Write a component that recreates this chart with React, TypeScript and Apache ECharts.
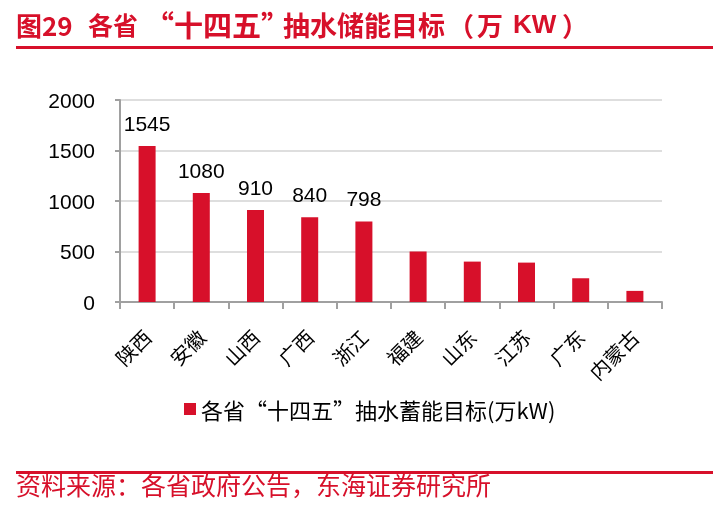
import React, { useEffect, useRef } from "react";
import * as echarts from "echarts";

const categories = ["陕西", "安徽", "山西", "广西", "浙江", "福建", "山东", "江苏", "广东", "内蒙古"];
const values = [1545, 1080, 910, 840, 798, 500, 400, 390, 235, 110];
const labeledCount = 5;
const yTicks = [0, 500, 1000, 1500, 2000];
const seriesName = "各省“十四五”抽水蓄能目标(万kW)";
const titleParts = ["图29", "各省", "“十四五”", "抽水储能目标", "（", "万", "KW", "）"];
const sourceText = "资料来源：各省政府公告，东海证券研究所";

const RED = "#D7102A";
const FONT = "'Liberation Sans', 'Noto Sans CJK SC', sans-serif";
const CJK = "'Noto Sans CJK SC', 'Liberation Sans', sans-serif";

export default function App() {
  const ref = useRef<HTMLDivElement>(null);
  useEffect(() => {
    const chart = echarts.init(ref.current!, null, { renderer: "svg" });
    const tSpecs = [
      { x: 16, size: 26, fam: CJK },
      { x: 88, size: 25, fam: CJK },
      { x: 145, size: 29, fam: CJK },
      { x: 283, size: 27, fam: CJK },
      { x: 448, size: 26, fam: CJK },
      { x: 477, size: 26, fam: CJK },
      { x: 513, size: 26, fam: FONT },
      { x: 562, size: 26, fam: CJK },
    ];
    const titleGraphics = titleParts.map((t, i) => ({
      type: "text",
      x: tSpecs[i].x,
      y: 24,
      style: {
        text: t,
        fill: RED,
        font: `bold ${tSpecs[i].size}px ${tSpecs[i].fam}`,
        verticalAlign: "middle",
        align: "left",
      },
    }));
    chart.setOption({
      animation: false,
      textStyle: { fontFamily: FONT },
      grid: { left: 120, right: 65, top: 100, bottom: 205, containLabel: false },
      graphic: [
        ...titleGraphics,
        {
          type: "rect",
          shape: { x: 16, y: 46, width: 697, height: 3 },
          style: { fill: RED },
        },
        {
          type: "rect",
          shape: { x: 16, y: 471, width: 697, height: 3 },
          style: { fill: RED },
        },
        {
          type: "text",
          x: 16,
          y: 484,
          style: { text: sourceText, fill: RED, font: `25px ${CJK}`, verticalAlign: "middle" },
        },
      ],
      legend: {
        data: [seriesName],
        top: 393,
        left: 179,
        itemWidth: 12,
        itemHeight: 12,
        itemGap: 6,
        icon: "rect",
        textStyle: { fontSize: 22, color: "#000", fontFamily: CJK },
      },
      xAxis: {
        type: "category",
        data: categories,
        axisLine: { lineStyle: { color: "#a0a0a0", width: 2 } },
        axisTick: { show: true, length: 7, lineStyle: { color: "#a0a0a0", width: 2 } },
        axisLabel: { rotate: 45, fontSize: 20, color: "#000", margin: 31, interval: 0, fontFamily: CJK },
      },
      yAxis: {
        type: "value",
        min: 0,
        max: 2000,
        interval: 500,
        axisLine: { show: true, lineStyle: { color: "#a0a0a0", width: 2 } },
        axisTick: { show: true, length: 5, lineStyle: { color: "#a0a0a0", width: 2 } },
        splitLine: { lineStyle: { color: "#dedede", width: 2 } },
        axisLabel: {
          fontSize: 21,
          color: "#000",
          margin: 25,
          formatter: (v: number) => (yTicks.includes(v) ? String(v) : ""),
        },
      },
      series: [
        {
          name: seriesName,
          type: "bar",
          barWidth: 17,
          itemStyle: { color: RED },
          data: values.map((v, i) => ({
            value: v,
            label: {
              show: i < labeledCount,
              position: "top",
              distance: 12,
              fontSize: 21,
              color: "#000",
            },
          })),
        },
      ],
    });
    return () => chart.dispose();
  }, []);
  return (
    <div
      ref={ref}
      style={{ position: "fixed", left: 0, top: 0, width: 727, height: 507 }}
    />
  );
}
